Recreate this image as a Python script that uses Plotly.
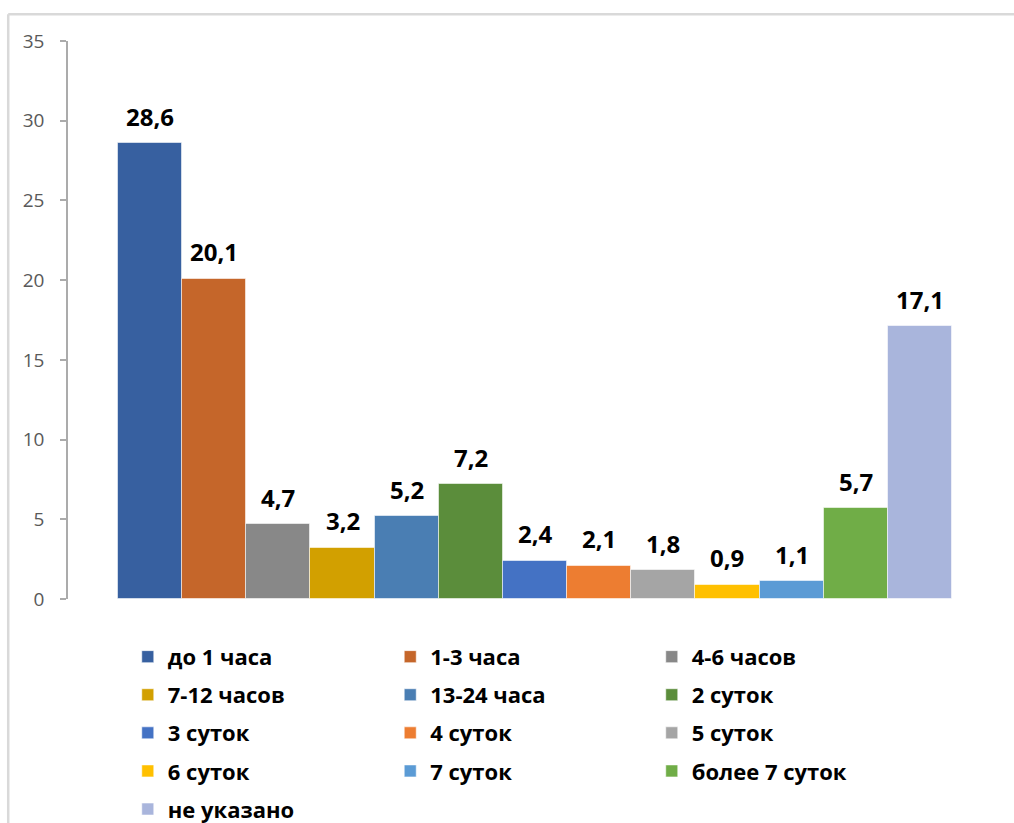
import plotly.graph_objects as go

# Share of cases by time interval, %
categories = [
    "до 1 часа", "1-3 часа", "4-6 часов",
    "7-12 часов", "13-24 часа", "2 суток",
    "3 суток", "4 суток", "5 суток",
    "6 суток", "7 суток", "более 7 суток",
    "не указано",
]
values = [28.6, 20.1, 4.7, 3.2, 5.2, 7.2, 2.4, 2.1, 1.8, 0.9, 1.1, 5.7, 17.1]
colors = [
    "#3760A0", "#C5662A", "#888888",
    "#D2A000", "#4A7EB3", "#5B8D3B",
    "#4472C4", "#ED7D31", "#A5A5A5",
    "#FFC000", "#5B9BD5", "#70AD47",
    "#A9B5DC",
]
y_ticks = [0, 5, 10, 15, 20, 25, 30, 35]

FONT = "Open Sans"
legend_names = ["legend", "legend2", "legend3"]

fig = go.Figure()
for i, (name, val, col) in enumerate(zip(categories, values, colors)):
    fig.add_trace(go.Bar(
        x=[i], y=[val], name=name, width=1,
        marker=dict(color=col, line=dict(color="rgba(255,255,255,0.55)", width=1)),
        legend=legend_names[i % 3], legendgroup=name,
        hovertemplate=name + ": %{y}<extra></extra>",
    ))
    fig.add_annotation(
        x=i, y=val, text=f"{val:.1f}".replace(".", ","),
        showarrow=False, yanchor="middle", yshift=27,
        font=dict(family=FONT, size=24, color="#000000", weight="bold"),
    )

legend_style = dict(
    orientation="v", yanchor="top", xanchor="left",
    font=dict(family=FONT, size=22, color="#000000", weight="bold"),
    tracegroupgap=6.5, bgcolor="rgba(0,0,0,0)", itemclick=False,
    maxheight=400,
)
legend_x = [0.064, 0.345, 0.625]
legend_y = -0.066
fig.update_layout(
    width=1014, height=823,
    margin=dict(l=68, r=12, t=41, b=224, autoexpand=False),
    paper_bgcolor="#ffffff", plot_bgcolor="#ffffff",
    barmode="relative", bargap=0,
    showlegend=True,
    legend=dict(x=legend_x[0], y=legend_y, **legend_style),
    legend2=dict(x=legend_x[1], y=legend_y, **legend_style),
    legend3=dict(x=legend_x[2], y=legend_y, **legend_style),
    xaxis=dict(visible=False, range=[-1.279, 13.279], fixedrange=True),
    yaxis=dict(
        range=[0, 35], tickvals=y_ticks, showgrid=False, zeroline=False,
        showline=True, linecolor="#ababab", linewidth=1.5,
        ticks="outside", ticklen=6, tickcolor="#ababab", tickwidth=1.5,
        ticklabelstandoff=12,
        tickfont=dict(family=FONT, size=19, color="#595959"),
        fixedrange=True,
    ),
)

# chart frame (left and top edges)
frame = dict(type="line", xref="paper", yref="paper",
             line=dict(color="#d9d9d9", width=2.5), layer="below")
fig.add_shape(x0=-0.064, x1=-0.064, y0=-0.5, y1=1.048, **frame)
fig.add_shape(x0=-0.064, x1=1.1, y0=1.048, y1=1.048, **frame)

fig.write_html("out.html")
